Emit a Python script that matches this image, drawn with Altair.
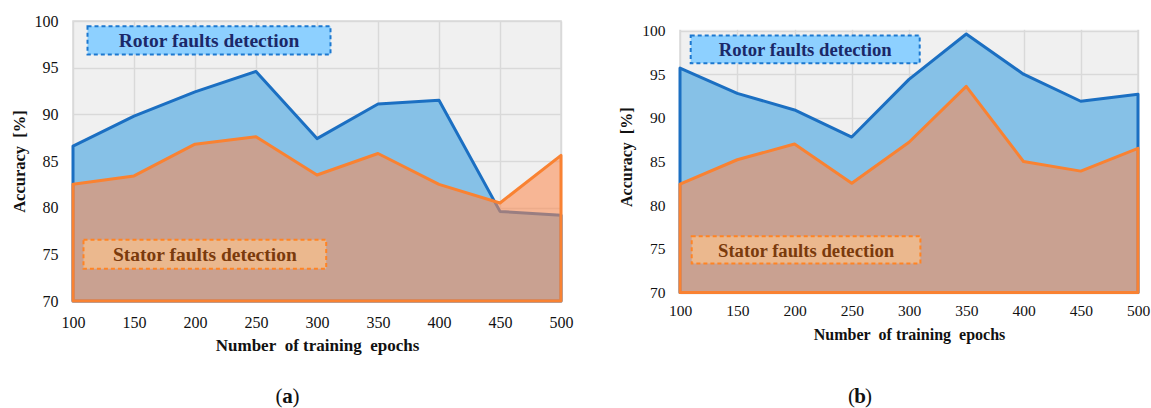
import altair as alt
import pandas as pd

# ---- data ----
epochs = [100, 150, 200, 250, 300, 350, 400, 450, 500]
rotor_a = [86.6, 89.8, 92.4, 94.6, 87.4, 91.1, 91.5, 79.6, 79.2]
stator_a = [82.5, 83.4, 86.8, 87.6, 83.5, 85.8, 82.5, 80.5, 85.6]
rotor_b = [95.7, 92.8, 90.9, 87.8, 94.4, 99.6, 95.0, 91.9, 92.7]
stator_b = [82.4, 85.2, 87.0, 82.5, 87.2, 93.6, 85.0, 83.9, 86.5]
x_ticks = [100, 150, 200, 250, 300, 350, 400, 450, 500]
y_ticks = [70, 75, 80, 85, 90, 95, 100]
rotor_label = "Rotor faults detection"
stator_label = "Stator faults detection"
x_title = "Number\u2002of training\u2002epochs"
y_title = "Accuracy\u2002[%]"

FONT = "'Liberation Serif', 'Times New Roman', Tinos, 'DejaVu Serif', serif"
BLUE_FILL = "#86C1E7"
BLUE_LINE = "#1B6FC2"
ORANGE_FILL = "#FC8A50"
ORANGE_LINE = "#F98232"
GRID = "#D9D9D9"


def panel(rotor, stator, W, H, ext, rbox, sbox, cap_xy, lab_size, ann_size,
          xt_size, yt_size, x_lab_pad, x_title_pad):
    # ext: extra pixels of plot area above the 100 line (hidden by a white strip)
    df = pd.DataFrame({"epochs": epochs, "rotor": rotor, "stator": stator})
    one = pd.DataFrame({"k": [0]})
    ymax = 100 + 30 * ext / H
    xs = alt.Scale(domain=[100, 500], nice=False, zero=False)
    ys = alt.Scale(domain=[70, ymax], nice=False, zero=False)
    xax = alt.Axis(values=x_ticks, title=x_title, grid=True, gridColor=GRID,
                   gridWidth=1.5, domain=False, ticks=False, tickSize=0,
                   labelFont=FONT, labelFontSize=lab_size, labelColor="#111",
                   labelPadding=x_lab_pad, labelFlush=False, labelOverlap=False,
                   titleFont=FONT, titleFontSize=xt_size, titleFontWeight="bold",
                   titleColor="#111", titlePadding=x_title_pad)
    yax = alt.Axis(values=y_ticks, title=y_title, grid=True, gridColor=GRID,
                   gridWidth=1.5, domain=False, ticks=False, tickSize=0,
                   labelFont=FONT, labelFontSize=lab_size, labelColor="#111",
                   labelPadding=15, labelFlush=False, labelOverlap=False,
                   titleFont=FONT, titleFontSize=yt_size, titleFontWeight="bold",
                   titleColor="#111", titlePadding=7)
    X = lambda: alt.X("epochs:Q", scale=xs, axis=xax)
    base = alt.Chart(df)
    rotor_area = base.mark_area(fill=BLUE_FILL, stroke=BLUE_LINE, strokeWidth=3,
                                strokeJoin="round").encode(
        x=X(), y=alt.Y("rotor:Q", scale=ys, axis=yax), y2=alt.datum(70))
    stator_area = base.mark_area(fill=ORANGE_FILL, fillOpacity=0.57,
                                 stroke=ORANGE_LINE, strokeWidth=3,
                                 strokeJoin="round").encode(
        x=X(), y=alt.Y("stator:Q", scale=ys, axis=yax), y2=alt.datum(70))

    ann = alt.Chart(one)
    layers = [rotor_area, stator_area]
    if ext:
        layers.append(ann.mark_rect(fill="white").encode(
            x=alt.value(-4), x2=alt.value(W + 4), y=alt.value(-4),
            y2=alt.value(ext - 0.8)))
    for (x0, x1, y0, y1), fill, stroke, txt, tcol in [
        (rbox, "#8DD0FF", "#1C78D0", rotor_label, "#1B2868"),
        (sbox, "#EBB88E", "#FF8424", stator_label, "#7A3A0C"),
    ]:
        layers.append(ann.mark_rect(fill=fill, stroke=stroke, strokeWidth=2,
                                    strokeDash=[4, 3]).encode(
            x=alt.value(x0), x2=alt.value(x1), y=alt.value(y0 + ext),
            y2=alt.value(y1 + ext)))
        layers.append(ann.mark_text(text=txt, font=FONT, fontSize=ann_size,
                                    fontWeight="bold", color=tcol,
                                    align="center", baseline="middle").encode(
            x=alt.value((x0 + x1) / 2), y=alt.value((y0 + y1) / 2 + 1 + ext)))
    cx, cy, letter = cap_xy
    cy = cy + ext
    layers.append(ann.mark_text(text="(", font=FONT, fontSize=21, color="#111",
                                align="right", baseline="middle").encode(
        x=alt.value(cx - 5), y=alt.value(cy)))
    layers.append(ann.mark_text(text=letter, font=FONT, fontSize=21, color="#111",
                                fontWeight="bold", align="center",
                                baseline="middle").encode(
        x=alt.value(cx), y=alt.value(cy)))
    layers.append(ann.mark_text(text=")", font=FONT, fontSize=21, color="#111",
                                align="left", baseline="middle").encode(
        x=alt.value(cx + 5), y=alt.value(cy)))
    return alt.layer(*layers).properties(width=W, height=H + ext)


left = panel(rotor_a, stator_a, 488, 280, 0,
             (14.5, 257.5, 5.2, 33.5), (10.5, 253.2, 218.8, 247.8),
             (214.5, 376, "a"), 16, 19.5, 17, 16.5, 13, 7)
right = panel(rotor_b, stator_b, 458, 262, 9.5,
              (10.7, 239.7, 5, 32.7), (11.7, 240.4, 205.7, 233),
              (180, 366.7, "b"), 15.5, 18.7, 16, 16, 11, 7)

chart = alt.hconcat(left, right, spacing=44).properties(
    padding={"left": 10, "top": 12, "right": 0, "bottom": 0},
    background="white",
).configure_view(fill="#F0F0F0", stroke=GRID, strokeWidth=1.5)

chart.save("out.html", embed_options={"renderer": "svg", "actions": False})
